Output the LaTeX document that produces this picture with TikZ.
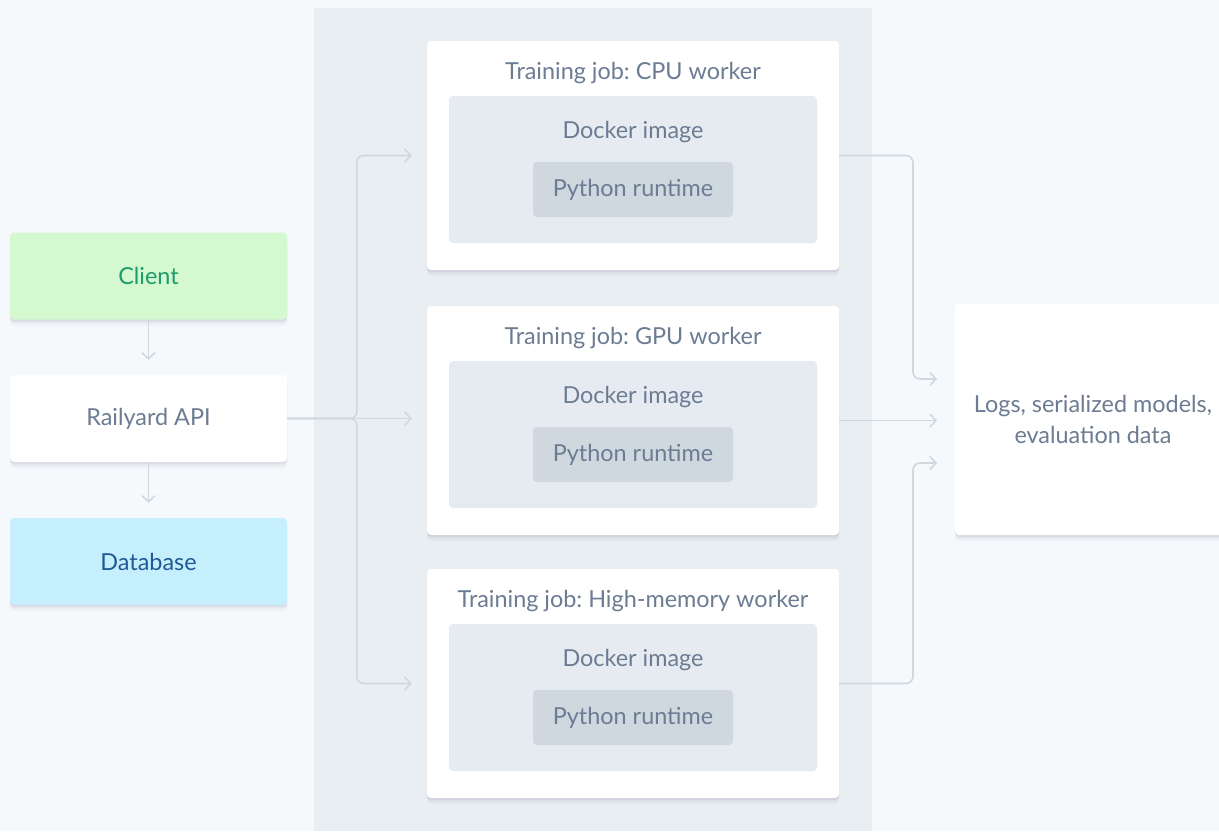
\documentclass[tikz,border=0pt]{standalone}
\usepackage{fontspec}
\setmainfont{Lato}
\frenchspacing
\usetikzlibrary{arrows.meta,calc}

\definecolor{pagebg}{HTML}{F6F9FC}
\definecolor{bandbg}{HTML}{E9EEF3}
\definecolor{dockerbg}{HTML}{E6EBF1}
\definecolor{pybg}{HTML}{CFD7DF}
\definecolor{slate}{HTML}{6B7C93}
\definecolor{wire}{HTML}{CFD7DF}
\definecolor{clientbg}{HTML}{D4F8D0}
\definecolor{clientfg}{HTML}{1E9C6B}
\definecolor{dbbg}{HTML}{C6EFFD}
\definecolor{dbfg}{HTML}{1F5A96}
\definecolor{shade}{HTML}{32325D}

\tikzset{
  panel/.style={rounded corners=4pt, draw=none, inner sep=0pt,
    preaction={fill=shade, fill opacity=0.035, transform canvas={yshift=-6pt}},
    preaction={fill=shade, fill opacity=0.05, transform canvas={yshift=-3.5pt}},
    preaction={fill=shade, fill opacity=0.07, transform canvas={yshift=-1.5pt}}},
  sidebox/.style={panel, minimum width=277pt, minimum height=87pt,
    font=\fontsize{23.4}{26}\selectfont},
  card/.style={panel, fill=white, minimum width=412pt, minimum height=229pt},
  dockerbox/.style={rounded corners=4pt, fill=dockerbg, minimum width=368pt,
    minimum height=147pt, inner sep=0pt},
  pybox/.style={rounded corners=4pt, fill=pybg, minimum width=200pt,
    minimum height=55pt, inner sep=0pt},
  label/.style={text=slate, font=\fontsize{23.4}{26}\selectfont, inner sep=0pt},
  link/.style={draw=wire, line width=1.6pt, rounded corners=7pt,
    -{Straight Barb[length=6pt, width=13pt, line width=1.6pt]}},
  flow/.style={draw=wire, line width=1.6pt}
}

\begin{document}
\begin{tikzpicture}[x=1pt, y=-1pt]
  % page and centre band
  \fill[pagebg] (0,0) rectangle (1219,831);
  \useasboundingbox (0,0) rectangle (1219,831);
  \fill[bandbg] (314,8) rectangle (872,831);

  % left column
  \node[sidebox, fill=clientbg, text=clientfg] (client) at (148.5,276) {Client};
  \node[sidebox, fill=white, text=slate] (rail) at (148.5,418.5) {Railyard API};
  \node[sidebox, fill=dbbg, text=dbfg] (db) at (148.5,561.5) {Database};

  % worker cards
  \foreach \name/\cy/\title in {cpu/155.5/{Training job: CPU worker},
                                gpu/420.5/{Training job: GPU worker},
                                hmem/683.5/{Training job: High-memory worker}} {
    \node[card] (\name) at (633,\cy) {};
    \node[dockerbox] (\name-docker) at ($(\name.center)+(0,14)$) {};
    \node[pybox] (\name-py) at ($(\name.center)+(0,34)$) {};
    \node[label] (\name-title) at ($(\name.center)+(0,-82.5)$) {\title};
    \node[label] (\name-dtext) at ($(\name.center)+(0,-23.5)$) {Docker image};
    \node[label] (\name-ptext) at (\name-py.center) {Python runtime};
  }

  % output box
  \node[card, minimum width=276pt, minimum height=231pt] (logs) at (1093,419.5) {};
  \node[label, align=center, font=\fontsize{23.4}{31}\selectfont] (logstext)
    at (logs.center) {Logs, serialized models,\\evaluation data};

  % vertical flow on the left
  \draw[flow, -{Straight Barb[length=6pt, width=13pt, line width=1.6pt]},
        shorten >=2pt] (client.south) -- ($(rail.north)+(0,-13)$);
  \draw[flow, -{Straight Barb[length=6pt, width=13pt, line width=1.6pt]},
        shorten >=2pt] (rail.south) -- ($(db.north)+(0,-13)$);

  % fan-out to the workers
  \coordinate (o1) at ($(cpu.west)+(-15,0)$);
  \coordinate (o2) at ($(gpu.west |- rail.east)+(-15,0)$);
  \coordinate (o3) at ($(hmem.west)+(-15,0)$);
  \draw[link] (rail.east) -| ([xshift=-55pt]o1) -- (o1);
  \draw[link] (rail.east) -- (o2);
  \draw[link] (rail.east) -| ([xshift=-55pt]o3) -- (o3);

  % fan-in to the outputs
  \coordinate (i1) at (937,379);
  \coordinate (i2) at (937,420.5);
  \coordinate (i3) at (937,463);
  \draw[link] (cpu.east) -| ([xshift=-24pt]i1) -- (i1);
  \draw[link] (gpu.east) -- (i2);
  \draw[link] (hmem.east) -| ([xshift=-24pt]i3) -- (i3);
\end{tikzpicture}
\end{document}
